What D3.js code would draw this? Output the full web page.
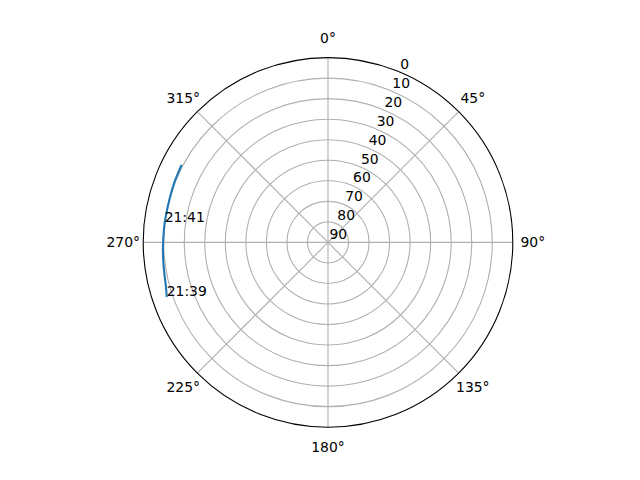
<!DOCTYPE html>
<html>
<head>
<meta charset="utf-8">
<script src="https://cdn.jsdelivr.net/npm/d3@7"></script>
<style>
  html, body { margin: 0; padding: 0; background: #fff; }
  svg { display: block; font-family: "DejaVu Sans", sans-serif; }
</style>
</head>
<body>
<svg width="640" height="480"></svg>
<script>
// satellite pass
const times = ["21:39:00", "21:39:24", "21:39:48", "21:40:12", "21:40:36", "21:41:00", "21:41:24", "21:41:48", "21:42:12"];
const azimuth = [251.3, 255.3, 260.4, 265.6, 270.0, 276.8, 285.0, 291.0, 297.9];
const elevation = [7.1, 8.3, 9.0, 9.4, 9.7, 9.9, 10.0, 9.7, 9.3];
const labelTimes = ["21:39:00", "21:41:00"];

const thetaTicks = [0, 45, 90, 135, 180, 225, 270, 315];
const rTicks = [0, 10, 20, 30, 40, 50, 60, 70, 80, 90];

const svg = d3.select("svg");
const cx = 328, cy = 242.4, R = 184.8;
const g = svg.append("g").attr("transform", `translate(${cx},${cy})`);

const r = d3.scaleLinear().domain([0, 90]).range([R, 0]);
const theta = d3.scaleLinear().domain([0, 360]).range([0, 2 * Math.PI]);

// x/y from az (clockwise from north) and elevation
const px = (az, el) => r(el) * Math.sin(theta(az));
const py = (az, el) => -r(el) * Math.cos(theta(az));

// grid circles
g.append("g")
  .selectAll("circle")
  .data(rTicks.filter(d => d > 0 && d < 90))
  .join("circle")
  .attr("r", d => r(d))
  .attr("fill", "none")
  .attr("stroke", "#b0b0b0")
  .attr("stroke-width", 1.1);

// spokes
g.append("g")
  .selectAll("line")
  .data(thetaTicks)
  .join("line")
  .attr("x1", 0).attr("y1", 0)
  .attr("x2", d => px(d, 0))
  .attr("y2", d => py(d, 0))
  .attr("stroke", "#b0b0b0")
  .attr("stroke-width", 1.1);

// outer frame
g.append("circle")
  .attr("r", R)
  .attr("fill", "none")
  .attr("stroke", "#000")
  .attr("stroke-width", 1.1);

// theta labels
g.append("g")
  .selectAll("text")
  .data(thetaTicks)
  .join("text")
  .attr("x", d => (R + 20) * Math.sin(theta(d)))
  .attr("y", d => -(R + 20) * Math.cos(theta(d)))
  .attr("dy", "0.36em")
  .attr("text-anchor", "middle")
  .attr("font-size", 13.9)
  .text(d => d + "°");

// radial labels at 22.5°
g.append("g")
  .selectAll("text")
  .data(rTicks)
  .join("text")
  .attr("x", d => px(22.5, d) + 1.5)
  .attr("y", d => py(22.5, d) - 3)
  .attr("font-size", 13.9)
  .text(d => d);

// track
const pts = times.map((t, i) => ({ t, az: azimuth[i], el: elevation[i] }));

const line = d3.lineRadial()
  .angle(d => theta(d.az))
  .radius(d => r(d.el))
  .curve(d3.curveCatmullRom);

g.append("path")
  .datum(pts)
  .attr("d", line)
  .attr("fill", "none")
  .attr("stroke", "#1f77b4")
  .attr("stroke-width", 2.1);

g.append("g")
  .selectAll("text")
  .data(pts.filter(d => labelTimes.includes(d.t)))
  .join("text")
  .attr("x", d => px(d.az, d.el))
  .attr("y", d => py(d.az, d.el) - 1)
  .attr("font-size", 13.9)
  .text(d => d.t.slice(0, 5));
</script>
</body>
</html>
